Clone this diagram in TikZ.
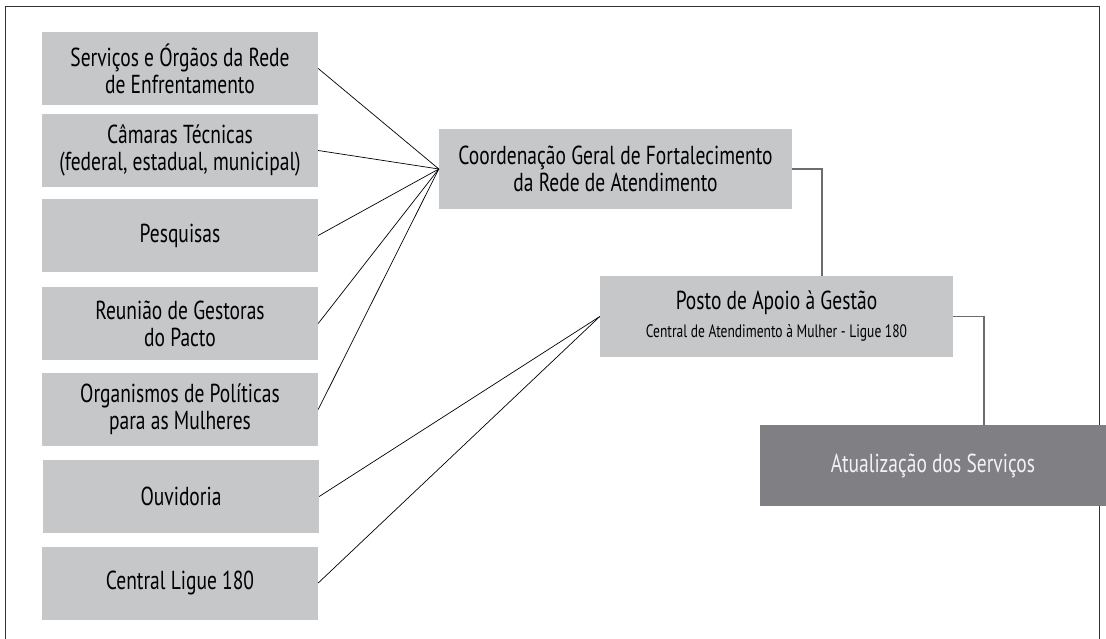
\documentclass[tikz,border=0pt]{standalone}
\usepackage{fontspec}
\setmainfont[FakeStretch=0.75]{PT Sans}
\usepackage{tikz}

\definecolor{boxgray}{HTML}{C6C7C9}
\definecolor{darkbox}{HTML}{808084}
\definecolor{linkgray}{HTML}{6D6D6D}

\tikzset{
  itembox/.style={rectangle, fill=boxgray, minimum width=276pt, minimum height=73pt, inner sep=0pt,
    align=center, text=black, font=\fontsize{26}{27}\selectfont},
  mainbox/.style={itembox, minimum width=353pt, minimum height=80pt},
  endbox/.style={itembox, fill=darkbox, text=white!95!black, minimum width=346pt, minimum height=81pt},
  spoke/.style={black, line width=0.7pt},
  link/.style={linkgray, line width=1.2pt}
}

\begin{document}
\begin{tikzpicture}[x=1pt, y=-1pt]
	\useasboundingbox (0,0) rectangle (1106,639);
	\draw[line width=1pt, black!80] (5,639) -- (5,7) -- (1099,7) -- (1099,639); % frame
	% left column
	\node[itembox] (servicos) at (180,68.5) {Serviços e Órgãos da Rede\\de Enfrentamento};
	\node[itembox] (camaras) at (180,150.5) {Câmaras Técnicas\\(federal, estadual, municipal)};
	\node[itembox] (pesquisas) at (180,235.5) {Pesquisas};
	\node[itembox] (reuniao) at (180,323.5) {Reunião de Gestoras\\do Pacto};
	\node[itembox] (organismos) at (180,409.5) {Organismos de Políticas\\para as Mulheres};
	\node[itembox] (ouvidoria) at (181,496.5) {Ouvidoria};
	\node[itembox] (ligue) at (180,583) {Central Ligue 180};
	% right side
	\node[mainbox] (coord) at (615.5,169) {Coordenação Geral de Fortalecimento\\da Rede de Atendimento};
	\node[mainbox, minimum height=81pt] (posto) at (776.5,316.5) {Posto de Apoio à Gestão\\[1pt]{\fontsize{18}{20}\selectfont Central de Atendimento à Mulher - Ligue 180}};
	\node[endbox] (atual) at (933,465.5) {Atualização dos Serviços};
	% spokes
	\draw[spoke] (servicos.east) -- (coord.west);
	\draw[spoke] (camaras.east) -- (coord.west);
	\draw[spoke] (pesquisas.east) -- (coord.west);
	\draw[spoke] (reuniao.east) -- (coord.west);
	\draw[spoke] (organismos.east) -- (coord.west);
	\draw[spoke] (ouvidoria.east) -- (posto.west);
	\draw[spoke] (ligue.east) -- (posto.west);
	% elbows
	\coordinate (k1) at (822,276);
	\coordinate (k2) at (984,425);
	\draw[link] (coord.east) -| (k1);
	\draw[link] (posto.east) -| (k2);
\end{tikzpicture}
\end{document}
